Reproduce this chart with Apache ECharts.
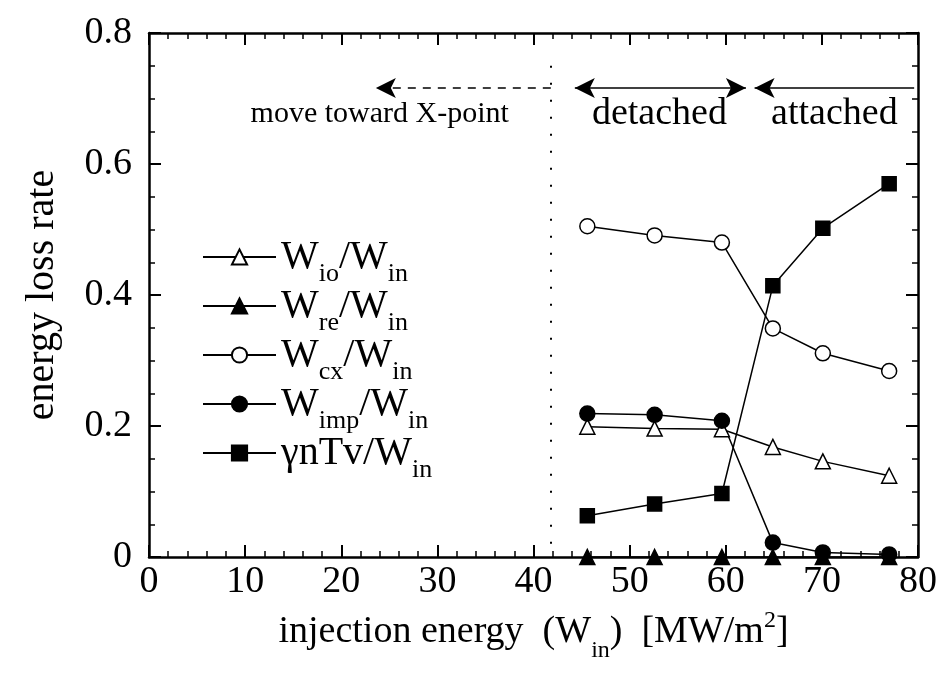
<!DOCTYPE html>
<html>
<head>
<meta charset="utf-8">
<script src="https://cdn.jsdelivr.net/npm/echarts@6/dist/echarts.min.js"></script>
<style>
  html, body { margin: 0; padding: 0; background: #fff; }
  #chart { width: 940px; height: 685px; }
</style>
</head>
<body>
<div id="chart"></div>
<script>
// Injection energy W_in [MW/m^2] for each simulated case
const injection = [45.6, 52.6, 59.6, 64.9, 70.1, 77.0];

// Fractions of the injected energy lost through each channel
const wIo   = [0.199, 0.196, 0.195, 0.168, 0.146, 0.124];
const wRe   = [0.000, 0.000, 0.000, 0.000, 0.000, 0.000];
const wCx   = [0.505, 0.491, 0.480, 0.349, 0.311, 0.284];
const wImp  = [0.219, 0.217, 0.208, 0.022, 0.007, 0.004];
const gnTv  = [0.063, 0.081, 0.097, 0.414, 0.502, 0.570];

// Axis ranges and tick steps
const xRange = { min: 0, max: 80, step: 10 };
const yRange = { min: 0, max: 0.8, step: 0.2 };

// Regime boundaries and annotation texts
const xPointEdge = 41.8;
const regimeArrowY = 0.716;
const regimeTextY = 0.676;
const regimeTexts = [
  { x: 24.0, text: 'move toward X-point', size: 30 },
  { x: 53.1, text: 'detached', size: 38 },
  { x: 71.3, text: 'attached', size: 38 }
];

const FONT = '"Liberation Serif", "Times New Roman", "DejaVu Serif", serif';
const BLACK = '#000';

const names = ['Wio', 'Wre', 'Wcx', 'Wimp', 'gnTv'];
const legendText = {
  Wio:  '{w|W}{s|io}{w|/W}{s|in}',
  Wre:  '{w|W}{s|re}{w|/W}{s|in}',
  Wcx:  '{w|W}{s|cx}{w|/W}{s|in}',
  Wimp: '{w|W}{s|imp}{w|/W}{s|in}',
  gnTv: '{w|\u03B3nTv/W}{s|in}'
};

function pairs(values) {
  return injection.map((x, i) => [x, values[i]]);
}

function lossSeries(name, values, symbol, filled) {
  return {
    name: name,
    type: 'line',
    data: pairs(values),
    symbol: symbol,
    symbolSize: symbol === 'rect' ? 14 : 15,
    clip: false,
    lineStyle: { color: BLACK, width: 1.5 },
    itemStyle: { color: filled ? BLACK : '#fff', borderColor: BLACK, borderWidth: 1.5 },
    emphasis: { disabled: true },
    z: 3
  };
}

// Shared frame style: inward ticks on all four sides of the box
function frameAxis(extra, minorSplit) {
  return Object.assign({
    type: 'value',
    axisLine: { show: true, onZero: false, lineStyle: { color: BLACK, width: 2.5 } },
    axisTick: { show: true, inside: true, length: 12, lineStyle: { color: BLACK, width: 2 } },
    minorTick: { show: true, splitNumber: minorSplit, length: 6, lineStyle: { color: BLACK, width: 1.5 } },
    splitLine: { show: false },
    minorSplitLine: { show: false }
  }, extra);
}

const chart = echarts.init(document.getElementById('chart'), null, { renderer: 'canvas' });

chart.setOption({
  animation: false,
  backgroundColor: '#fff',
  grid: { left: 149, right: 21, top: 33, bottom: 128, containLabel: false },
  xAxis: [
    frameAxis({
      position: 'bottom',
      min: xRange.min, max: xRange.max, interval: xRange.step,
      axisLabel: { color: BLACK, fontFamily: FONT, fontSize: 38, margin: 6 },
      name: '{n|injection energy  (W}{sub|in}{n|)  [MW/m}{sup|2}{n|]}',
      nameLocation: 'middle',
      nameGap: 44,
      nameTextStyle: {
        color: BLACK, fontFamily: FONT, fontSize: 38,
        rich: {
          n: { fontFamily: FONT, fontSize: 38, color: BLACK },
          sub: { fontFamily: FONT, fontSize: 24, color: BLACK, padding: [38, 0, 0, 0] },
          sup: { fontFamily: FONT, fontSize: 24, color: BLACK, padding: [0, 0, 22, 0] }
        }
      }
    }, 5),
    frameAxis({
      position: 'top',
      min: xRange.min, max: xRange.max, interval: xRange.step,
      axisLabel: { show: false }
    }, 5)
  ],
  yAxis: [
    frameAxis({
      position: 'left',
      min: yRange.min, max: yRange.max, interval: yRange.step,
      axisLabel: { color: BLACK, fontFamily: FONT, fontSize: 38, margin: 17 },
      name: 'energy loss rate',
      nameLocation: 'middle',
      nameGap: 87,
      nameTextStyle: { color: BLACK, fontFamily: FONT, fontSize: 40 }
    }, 4),
    frameAxis({
      position: 'right',
      min: yRange.min, max: yRange.max, interval: yRange.step,
      axisLabel: { show: false }
    }, 4)
  ],
  legend: {
    data: names,
    orient: 'vertical',
    left: 197,
    top: 232,
    itemWidth: 73,
    itemHeight: 19,
    itemGap: -1,
    selectedMode: false,
    formatter: name => legendText[name],
    textStyle: {
      color: BLACK, fontFamily: FONT, fontSize: 40,
      rich: {
        w: { fontFamily: FONT, fontSize: 40, color: BLACK },
        s: { fontFamily: FONT, fontSize: 26, color: BLACK, padding: [34, 0, 0, 0] }
      }
    }
  },
  series: [
    lossSeries('Wio', wIo, 'triangle', false),
    lossSeries('Wre', wRe, 'triangle', true),
    lossSeries('Wcx', wCx, 'circle', false),
    lossSeries('Wimp', wImp, 'circle', true),
    lossSeries('gnTv', gnTv, 'rect', true),
    {
      name: 'regimes',
      type: 'line',
      data: [],
      silent: true,
      markLine: {
        silent: true,
        animation: false,
        symbol: ['arrow', 'arrow'],
        symbolSize: [15, 20],
        label: { show: false },
        lineStyle: { color: BLACK, width: 1.5, type: 'solid' },
        emphasis: { disabled: true },
        data: [
          [
            { coord: [xPointEdge, 0.75], symbol: 'none', lineStyle: { type: [2, 15], width: 2, color: BLACK } },
            { coord: [xPointEdge, 0.012], symbol: 'none' }
          ],
          [
            { coord: [xPointEdge, regimeArrowY], symbol: 'none', lineStyle: { type: [8, 7], width: 1.5, color: BLACK } },
            { coord: [23.6, regimeArrowY], symbol: 'arrow' }
          ],
          [
            { coord: [44.3, regimeArrowY], symbol: 'arrow' },
            { coord: [62.1, regimeArrowY], symbol: 'arrow' }
          ],
          [
            { coord: [79.6, regimeArrowY], symbol: 'none' },
            { coord: [63.0, regimeArrowY], symbol: 'arrow' }
          ]
        ]
      },
      markPoint: {
        silent: true,
        animation: false,
        symbol: 'circle',
        symbolSize: 1,
        itemStyle: { color: 'rgba(0,0,0,0)' },
        data: regimeTexts.map(t => ({
          name: t.text,
          coord: [t.x, regimeTextY],
          label: {
            show: true, position: 'inside', formatter: '{b}',
            color: BLACK, fontFamily: FONT, fontSize: t.size
          }
        }))
      }
    }
  ]
});
</script>
</body>
</html>
